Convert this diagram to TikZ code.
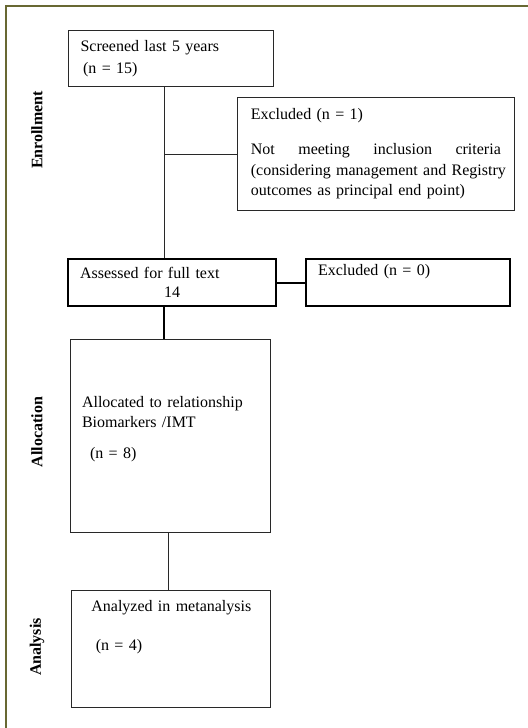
\documentclass[tikz,border=0pt]{standalone}
\usepackage{fontspec}
\setmainfont{Liberation Serif}
\usetikzlibrary{positioning}
\definecolor{framecol}{RGB}{104,104,50}
\definecolor{boxline}{RGB}{40,40,40}

\begin{document}
\begin{tikzpicture}[
  box/.style={draw=boxline, line width=0.75pt, anchor=north west, align=left, inner xsep=9pt, inner ysep=0pt,
    font=\fontsize{12}{14}\selectfont},
  thickbox/.style={box, draw=black, line width=1.5pt},
  side/.style={rotate=90, font=\fontsize{12}{14}\selectfont\bfseries},
  link/.style={draw=boxline, line width=0.75pt},
  thicklink/.style={draw=black, line width=1.5pt}]
\useasboundingbox (0,0) rectangle (396pt,-546pt);
\draw[framecol, line width=1.5pt] (4.5pt,-546pt) -- (4.5pt,-4.5pt) -- (396pt,-4.5pt);
\node[box, minimum width=153.75pt, minimum height=42pt, text width=135.75pt] (screen) at (51pt,-22.5pt)
  {Screened last 5 years\\[2.5pt]\hspace*{2pt}(n = 15)};
\node[box, minimum width=205.5pt, minimum height=84.75pt, text width=187.5pt, inner xsep=10pt] (excl1) at (177.75pt,-72.75pt)
  {Excluded (n = 1)\\[12pt]
   Not\hfill meeting\hfill inclusion\hfill criteria\\[1.5pt]
   \mbox{(considering management and Registry}\\[1.5pt]
   \mbox{outcomes as principal end point)}};
\node[thickbox, minimum width=156pt, minimum height=35.25pt, text width=138pt] (assess) at (50.25pt,-193.5pt)
  {Assessed for full text\\\makebox[\linewidth]{14}};
\node[thickbox, anchor=west, minimum width=153pt, minimum height=35.25pt, text width=135pt, right=21pt of assess] (excl0)
  {Excluded (n = 0)\\\strut};
\node[box, anchor=north, minimum width=150pt, minimum height=144.75pt, text width=132pt, below=24pt of assess, xshift=-1.5pt] (alloc)
  {Allocated to relationship\\[1pt]
   Biomarkers /IMT\\[9pt]
   \hspace*{6pt}(n = 8)\\[-5pt]\strut};
\node[box, anchor=north, minimum width=149.25pt, minimum height=87.75pt, text width=131.25pt, below=42.75pt of alloc, xshift=1pt] (anal)
  {\makebox[\linewidth]{Analyzed in metanalysis}\\[15pt]
   \hspace*{9pt}(n = 4)\\[17.5pt]\strut};
\node[side] (enrol) at (27.75pt,-97.5pt) {Enrollment};
\node[side] (alloclab) at (27.75pt,-324pt) {Allocation};
\node[side] (anallab) at (27.75pt,-485.25pt) {Analysis};
\coordinate (trunk) at ([xshift=-5pt]screen.south);
\draw[link] (trunk) -- (trunk |- assess.north);
\draw[link] (trunk |- excl1.west) -- (excl1.west);
\draw[thicklink] (assess) -- (excl0);
\draw[thicklink] ([xshift=-6pt]assess.south) -- ([xshift=-6pt]assess.south |- alloc.north);
\draw[link] ([xshift=-1.5pt]alloc.south) -- ([xshift=-1.5pt]alloc.south |- anal.north);
\end{tikzpicture}
\end{document}
